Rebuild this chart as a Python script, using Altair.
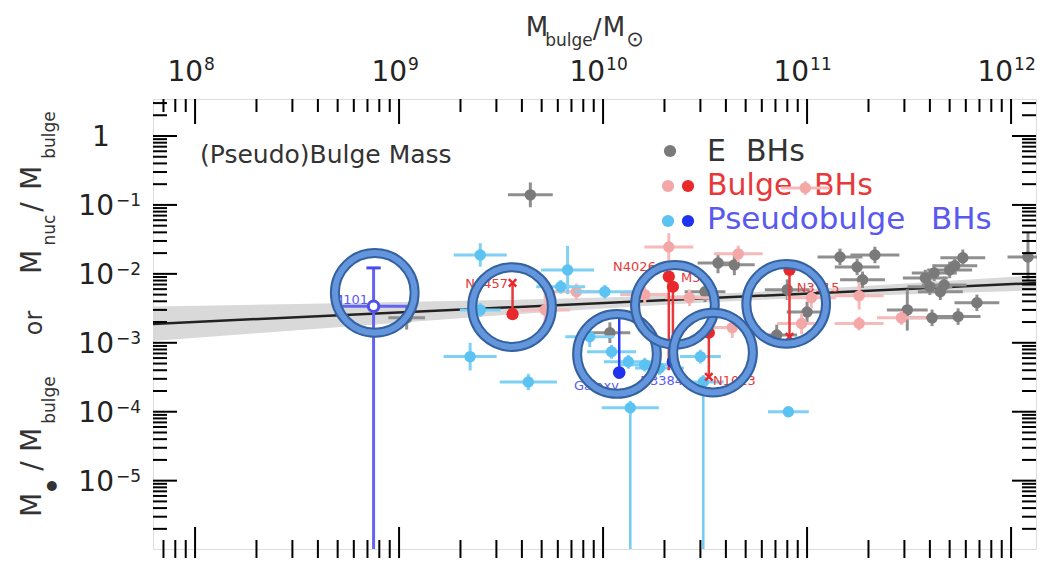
import altair as alt
import pandas as pd

FONT = "DejaVu Sans"
W, H = 883, 450
L0, T0 = 153, 99  # page position of the plot origin (annotation placement)

x_domain = [6.22e7, 1.325e12]
y_domain = [1.02e-6, 3.44]

x_major = [1e8, 1e9, 1e10, 1e11, 1e12]
x_exp = ["8", "9", "10", "11", "12"]
y_major = [1.0, 1e-1, 1e-2, 1e-3, 1e-4, 1e-5]
y_exp = ["", "−1", "−2", "−3", "−4", "−5"]
x_minor = [k * 10.0 ** d for d in range(7, 12) for k in range(2, 10)
           if x_domain[0] < k * 10.0 ** d < x_domain[1]]
y_minor = [k * 10.0 ** d for d in range(-6, 1) for k in range(2, 10)
           if y_domain[0] < k * 10.0 ** d < y_domain[1]]

# ---- E BHs (grey) ----
e_mass = [4.4e9, 1.09e9, 1.08e10, 3.66e10, 4.4e10, 3.16e10, 1.45e11, 2.15e11, 1.76e11,
          1.87e11, 8.0e10, 1.0e11, 7.1e10, 3.8e11, 4.2e11, 4.7e11, 4.5e11, 5.0e11,
          5.3e11, 5.8e11, 4.0e11, 6.8e11, 5.5e11, 4.1e11, 3.1e11, 1.21e12]
e_ratio = [0.14, 2.3e-3, 1.4e-3, 0.0144, 0.0135, 5.5e-3, 0.0176, 0.0188, 0.0126,
           8.2e-3, 5.9e-3, 2.8e-3, 1.3e-3, 8.7e-3, 0.0103, 6.9e-3, 5.5e-3, 0.0114,
           0.0131, 0.0171, 6.5e-3, 3.8e-3, 2.4e-3, 2.3e-3, 3.0e-3, 0.0176]
e_xerr = [0.11, 0.09, 0.1, 0.1, 0.1, 0.1, 0.11, 0.12, 0.11, 0.11, 0.11, 0.1, 0.1,
          0.11, 0.11, 0.11, 0.11, 0.11, 0.11, 0.11, 0.11, 0.11, 0.11, 0.11, 0.1, 0.1]
e_yerr = [0.18, 0.17, 0.15, 0.15, 0.15, 0.15, 0.12, 0.12, 0.12, 0.12, 0.15, 0.15, 0.15,
          0.12, 0.12, 0.12, 0.12, 0.12, 0.12, 0.12, 0.12, 0.12, 0.12, 0.12, 0.3, 0.35]

# ---- Bulge BHs (light red) ----
b_mass = [5.2e9, 7.4e9, 1.6e10, 2.1e10, 4.6e10, 9.8e10, 1.05e11, 9.4e10, 4.3e10,
          1.8e11, 1.8e11, 2.9e11, 2.65e10]
b_ratio = [3.0e-3, 5.5e-3, 5.0e-3, 0.0246, 0.0195, 0.176, 4.5e-3, 1.9e-3, 1.66e-3,
           4.8e-3, 1.9e-3, 2.3e-3, 4.5e-3]
b_xerr = [0.12] * 13
b_yerr = [0.35, 0.12, 0.12, 0.2, 0.12, 0.1, 0.15, 0.15, 0.15, 0.2, 0.1, 0.1, 0.12]

# ---- Pseudobulge BHs (light blue) ----
p_mass = [2.5e9, 6.7e9, 6.2e9, 2.5e9, 1.02e10, 2.23e9, 4.3e9, 8.6e9, 1.1e10, 1.33e10,
          1.6e10, 1.89e10, 1.36e10, 3.1e10, 8.1e10, 3.0e10]
p_ratio = [0.0188, 0.0114, 6.5e-3, 3.0e-3, 5.5e-3, 6.3e-4, 2.7e-4, 1.22e-3, 7.4e-4,
           5.3e-4, 4.8e-4, 4.3e-4, 1.14e-4, 2.7e-4, 1.0e-4, 6.3e-4]
p_xerr = [0.13, 0.13, 0.12, 0.1, 0.15, 0.13, 0.14, 0.12, 0.12, 0.12, 0.12, 0.12,
          0.14, 0.1, 0.1, 0.1]
p_yerr = [0.17, 0.35, 0.1, 0.1, 0.1, 0.2, 0.12, 0.15, 0.1, 0.1, 0.1, 0.1, 0.1, 0.1,
          0.05, 0.1]
plim_mass = [1.36e10, 3.1e10]
plim_ratio = [1.14e-4, 2.7e-4]

# ---- highlighted bulges (red) ----
r_mass = [3.6e9, 2.1e10, 2.2e10, 3.3e10, 8.2e10]
r_ratio = [2.6e-3, 9.1e-3, 6.5e-3, 1.4e-3, 0.0114]
r_ratio_end = [7.4e-3, 4.0e-4, 4.0e-4, 3.2e-4, 1.22e-3]
rx_mass = [3.6e9, 3.3e10, 8.2e10]
rx_ratio = [7.4e-3, 3.2e-4, 1.22e-3]

# ---- highlighted pseudobulges (blue) ----
m101_mass, m101_ratio, m101_up, m101_xerr = [7.5e8], [3.4e-3], [0.0122], [0.2]
bl_mass = [1.2e10, 2.2e10]
bl_ratio = [3.7e-4, 5.3e-4]
bl_up = [2.7e-3, 1.18e-3]
cap_mass = [7.5e8, 1.2e10]
cap_ratio = [0.0122, 2.7e-3]

# ---- labels ----
labR_text = ["M101", "N4457"]
labR_mass = [7.05e8, 3.42e9]
labR_ratio = [4.2e-3, 7.2e-3]
labR_col = ["#5a5af0", "#e8393a"]
labL_text = ["N4026", "M31", "N3115", "N1023", "Galaxy", "N3384"]
labL_mass = [1.12e10, 2.41e10, 8.9e10, 3.46e10, 7.2e9, 1.52e10]
labL_ratio = [0.0126, 8.7e-3, 6.3e-3, 2.8e-4, 2.4e-4, 2.8e-4]
labL_col = ["#e8393a", "#e8393a", "#e8393a", "#e8393a", "#5a5af0", "#5a5af0"]

# ---- highlight rings ----
ring_mass = [7.6e8, 3.58e9, 1.17e10, 2.25e10, 3.46e10, 7.9e10]
ring_ratio = [5.3e-3, 3.3e-3, 6.9e-4, 3.55e-3, 7.2e-4, 3.67e-3]

# ---- fit and band ----
fit_mass = [6.22e7, 1.325e12]
fit_ratio = [1.88e-3, 7.38e-3]
band_mass = [6.22e7, 3.16e8, 1e9, 3.16e9, 1e10, 3.16e10, 1e11, 3.16e11, 1.325e12]
band_lo = [1.06e-3, 1.52e-3, 1.95e-3, 2.51e-3, 3.14e-3, 3.85e-3, 4.51e-3, 5.05e-3, 5.73e-3]
band_hi = [3.35e-3, 3.65e-3, 3.89e-3, 4.16e-3, 4.54e-3, 5.08e-3, 5.94e-3, 7.30e-3, 9.51e-3]

xs = alt.Scale(type="log", domain=x_domain, nice=False)
ys = alt.Scale(type="log", domain=y_domain, nice=False)


def xenc(f):
    return alt.X(f + ":Q", scale=xs, axis=None)


def yenc(f):
    return alt.Y(f + ":Q", scale=ys, axis=None)


one = pd.DataFrame({"k": [0]})


def px_text(text, px, py, size, color, align="center", angle=0):
    return alt.Chart(one).mark_text(
        text=text, align=align, baseline="middle", fontSize=size, color=color,
        angle=angle, font=FONT).encode(x=alt.value(px - L0), y=alt.value(py - T0))


def px_dot(px, py, color, size=150):
    return alt.Chart(one).mark_point(filled=True, shape="circle", size=size,
                                     color=color, opacity=1).encode(
        x=alt.value(px - L0), y=alt.value(py - T0))


def errpoints(mass, ratio, xerr, yerr, dot_color, bar_color, size=130):
    df = pd.DataFrame({"m": mass, "r": ratio, "xe": xerr, "ye": yerr})
    df["m_lo"] = df.m / 10 ** df.xe
    df["m_hi"] = df.m * 10 ** df.xe
    df["r_lo"] = df.r / 10 ** df.ye
    df["r_hi"] = df.r * 10 ** df.ye
    base = alt.Chart(df)
    hb = base.mark_rule(color=bar_color, strokeWidth=3).encode(
        x=xenc("m_lo"), x2=alt.X2("m_hi"), y=yenc("r"))
    vb = base.mark_rule(color=bar_color, strokeWidth=3).encode(
        x=xenc("m"), y=yenc("r_lo"), y2=alt.Y2("r_hi"))
    pts = base.mark_point(filled=True, shape="circle", size=size, color=dot_color,
                          opacity=1).encode(x=xenc("m"), y=yenc("r"))
    return [hb, vb, pts]


layers = []

band_df = pd.DataFrame({"m": band_mass, "lo": band_lo, "hi": band_hi})
layers.append(alt.Chart(band_df).mark_area(color="#d9d9d9", opacity=1).encode(
    x=xenc("m"), y=yenc("lo"), y2=alt.Y2("hi")))

fit_df = pd.DataFrame({"m": fit_mass, "r": fit_ratio})
layers.append(alt.Chart(fit_df).mark_line(color="#222", strokeWidth=2.5).encode(
    x=xenc("m"), y=yenc("r")))

# legend text first, so data points (one pink point) sit on top of it
layers.append(px_text("(Pseudo)Bulge Mass", 200, 155, 25, "#333", align="left"))
layers.append(px_dot(670, 151, "#7a7a7a"))
layers.append(px_dot(668, 186, "#f4a7a7"))
layers.append(px_dot(688, 186, "#e8282a"))
layers.append(px_dot(668, 221, "#5bc2f1"))
layers.append(px_dot(688, 221, "#1f33ee"))
layers.append(px_text("E", 707, 152, 30, "#333", align="left"))
layers.append(px_text("BHs", 746, 152, 30, "#333", align="left"))
layers.append(px_text("Bulge", 707, 186, 30, "#e8393a", align="left"))
layers.append(px_text("BHs", 814, 186, 30, "#e8393a", align="left"))
layers.append(px_text("Pseudobulge", 707, 220, 31, "#5959f0", align="left"))
layers.append(px_text("BHs", 931, 220, 31, "#5959f0", align="left"))

# data groups
layers += errpoints(e_mass, e_ratio, e_xerr, e_yerr, "#7a7a7a", "#8f8f8f")
layers += errpoints(b_mass, b_ratio, b_xerr, b_yerr, "#f4a7a7", "#f6baba")
plim_df = pd.DataFrame({"m": plim_mass, "r": plim_ratio, "b": [y_domain[0]] * 2})
layers.append(alt.Chart(plim_df).mark_rule(color="#72cbf3", strokeWidth=2.5).encode(
    x=xenc("m"), y=yenc("r"), y2=alt.Y2("b")))
layers += errpoints(p_mass, p_ratio, p_xerr, p_yerr, "#5bc2f1", "#7fd0f5")

# red highlighted
r_df = pd.DataFrame({"m": r_mass, "r": r_ratio, "e": r_ratio_end})
layers.append(alt.Chart(r_df).mark_rule(color="#e8393a", strokeWidth=2.5).encode(
    x=xenc("m"), y=yenc("r"), y2=alt.Y2("e")))
layers.append(alt.Chart(r_df).mark_point(filled=True, shape="circle", size=150,
                                         color="#e8282a", opacity=1).encode(
    x=xenc("m"), y=yenc("r")))
rx_df = pd.DataFrame({"m": rx_mass, "r": rx_ratio})
layers.append(alt.Chart(rx_df).mark_point(shape="M-1,-1L1,1M-1,1L1,-1", filled=False,
                                          size=55, strokeWidth=2.5, color="#e8282a",
                                          opacity=1).encode(x=xenc("m"), y=yenc("r")))

# blue highlighted
m_df = pd.DataFrame({"m": m101_mass, "r": m101_ratio, "u": m101_up,
                     "b": [y_domain[0]], "xe": m101_xerr})
m_df["ml"] = m_df.m / 10 ** m_df.xe
m_df["mh"] = m_df.m * 10 ** m_df.xe
layers.append(alt.Chart(m_df).mark_rule(color="#6464f0", strokeWidth=3).encode(
    x=xenc("m"), y=yenc("u"), y2=alt.Y2("b")))
layers.append(alt.Chart(m_df).mark_rule(color="#6464f0", strokeWidth=3).encode(
    x=xenc("ml"), x2=alt.X2("mh"), y=yenc("r")))
bl_df = pd.DataFrame({"m": bl_mass, "r": bl_ratio, "u": bl_up})
layers.append(alt.Chart(bl_df).mark_rule(color="#2a3af0", strokeWidth=2.5).encode(
    x=xenc("m"), y=yenc("r"), y2=alt.Y2("u")))
cap_df = pd.DataFrame({"m": cap_mass, "r": cap_ratio})
cap_df["ml"] = cap_df.m / 10 ** 0.035
cap_df["mh"] = cap_df.m * 10 ** 0.035
layers.append(alt.Chart(cap_df).mark_rule(color="#4a4af0", strokeWidth=3).encode(
    x=xenc("ml"), x2=alt.X2("mh"), y=yenc("r")))
layers.append(alt.Chart(bl_df).mark_point(filled=True, shape="circle", size=160,
                                          color="#1f33ee", opacity=1).encode(
    x=xenc("m"), y=yenc("r")))
layers.append(alt.Chart(m_df).mark_point(filled=True, shape="circle", size=110,
                                         fill="white", stroke="#5050ee", strokeWidth=3,
                                         opacity=1).encode(x=xenc("m"), y=yenc("r")))

# labels
labR_df = pd.DataFrame({"t": labR_text, "m": labR_mass, "r": labR_ratio, "c": labR_col})
layers.append(alt.Chart(labR_df).mark_text(align="right", baseline="middle", fontSize=13,
                                           font=FONT).encode(
    x=xenc("m"), y=yenc("r"), text="t:N", color=alt.Color("c:N", scale=None)))
labL_df = pd.DataFrame({"t": labL_text, "m": labL_mass, "r": labL_ratio, "c": labL_col})
layers.append(alt.Chart(labL_df).mark_text(align="left", baseline="middle", fontSize=13,
                                           font=FONT).encode(
    x=xenc("m"), y=yenc("r"), text="t:N", color=alt.Color("c:N", scale=None)))

# rings
for rm, rr in zip(ring_mass, ring_ratio):
    rdf = pd.DataFrame({"m": [rm], "r": [rr]})
    layers.append(alt.Chart(rdf).mark_point(shape="circle", filled=False, size=6360,
                                            strokeWidth=10, color="#34619f", opacity=1).encode(
        x=xenc("m"), y=yenc("r")))
    layers.append(alt.Chart(rdf).mark_point(shape="circle", filled=False, size=6360,
                                            strokeWidth=6, color="#6396dd", opacity=1).encode(
        x=xenc("m"), y=yenc("r")))

# ticks (inward / crossing)
xmaj = alt.Chart(pd.DataFrame({"v": x_major}))
xmin_ = alt.Chart(pd.DataFrame({"v": x_minor}))
ymaj = alt.Chart(pd.DataFrame({"v": y_major}))
ymin_ = alt.Chart(pd.DataFrame({"v": y_minor}))
tk = dict(color="black", strokeWidth=2)
layers += [
    xmaj.mark_rule(**tk).encode(x=xenc("v"), y=alt.value(0), y2=alt.value(25)),
    xmin_.mark_rule(**tk).encode(x=xenc("v"), y=alt.value(0), y2=alt.value(13)),
    xmaj.mark_rule(**tk).encode(x=xenc("v"), y=alt.value(H - 22), y2=alt.value(H + 17)),
    xmin_.mark_rule(**tk).encode(x=xenc("v"), y=alt.value(H - 9), y2=alt.value(H + 9)),
    ymaj.mark_rule(**tk).encode(y=yenc("v"), x=alt.value(0), x2=alt.value(24)),
    ymin_.mark_rule(**tk).encode(y=yenc("v"), x=alt.value(0), x2=alt.value(14)),
    ymaj.mark_rule(**tk).encode(y=yenc("v"), x=alt.value(W - 24), x2=alt.value(W)),
    ymin_.mark_rule(**tk).encode(y=yenc("v"), x=alt.value(W - 14), x2=alt.value(W)),
]

# tick labels as text: "10" plus a raised exponent
TL = "#222"
xl = pd.DataFrame({"v": x_major, "e": x_exp, "b": ["10"] * len(x_major)})
for sub, d in [(xl[xl.e.str.len() == 1], 8), (xl[xl.e.str.len() == 2], 2)]:
    c = alt.Chart(sub)
    layers.append(c.mark_text(align="right", baseline="middle", fontSize=28, font=FONT,
                              color=TL, dx=d).encode(x=xenc("v"), y=alt.value(-26), text="b:N"))
    layers.append(c.mark_text(align="left", baseline="middle", fontSize=17, font=FONT,
                              color=TL, dx=d + 1).encode(x=xenc("v"), y=alt.value(-34), text="e:N"))
yl = pd.DataFrame({"v": y_major, "e": y_exp, "b": ["10"] * len(y_major)})
yl_one = yl[yl.e == ""]
yl_pow = yl[yl.e != ""]
layers.append(alt.Chart(yl_one).mark_text(align="center", baseline="middle", fontSize=28,
                                          font=FONT, color=TL, dy=2).encode(
    y=yenc("v"), x=alt.value(-52), text=alt.value("1")))
layers.append(alt.Chart(yl_pow).mark_text(align="right", baseline="middle", fontSize=28,
                                          font=FONT, color=TL, dy=2).encode(
    y=yenc("v"), x=alt.value(-39), text="b:N"))
layers.append(alt.Chart(yl_pow).mark_text(align="right", baseline="middle", fontSize=17,
                                          font=FONT, color=TL, dy=-4).encode(
    y=yenc("v"), x=alt.value(-12), text="e:N"))

# axis titles built from pieces (subscripts)
layers += [
    px_text("M", 537, 28, 26, "#333"),
    px_text("bulge", 569, 41, 17, "#333"),
    px_text("/", 597, 30, 26, "#333"),
    px_text("M", 614, 28, 26, "#333"),
    px_text("⊙", 635, 40, 21, "#333"),
]
ytitle = [("M", 33, 505, 28), ("●", 51, 486, 13), ("/", 33, 466, 28), ("M", 33, 440, 28),
          ("bulge", 50, 400, 17), ("or", 35, 323, 24), ("M", 33, 262, 28),
          ("nuc", 50, 230, 17), ("/", 33, 207, 28), ("M", 33, 178, 28),
          ("bulge", 50, 135, 17)]
for t, px, py, s in ytitle:
    layers.append(px_text(t, px, py, s, "#333", angle=270))

chart = alt.layer(*layers).properties(
    width=W, height=H,
    autosize=alt.AutoSizeParams(type="none"),
    padding={"left": 145, "top": 91, "right": 1, "bottom": 9},
).configure_view(stroke="black", strokeWidth=3).configure(background="white")

chart.save("out.html", embed_options={"renderer": "svg", "actions": False})
